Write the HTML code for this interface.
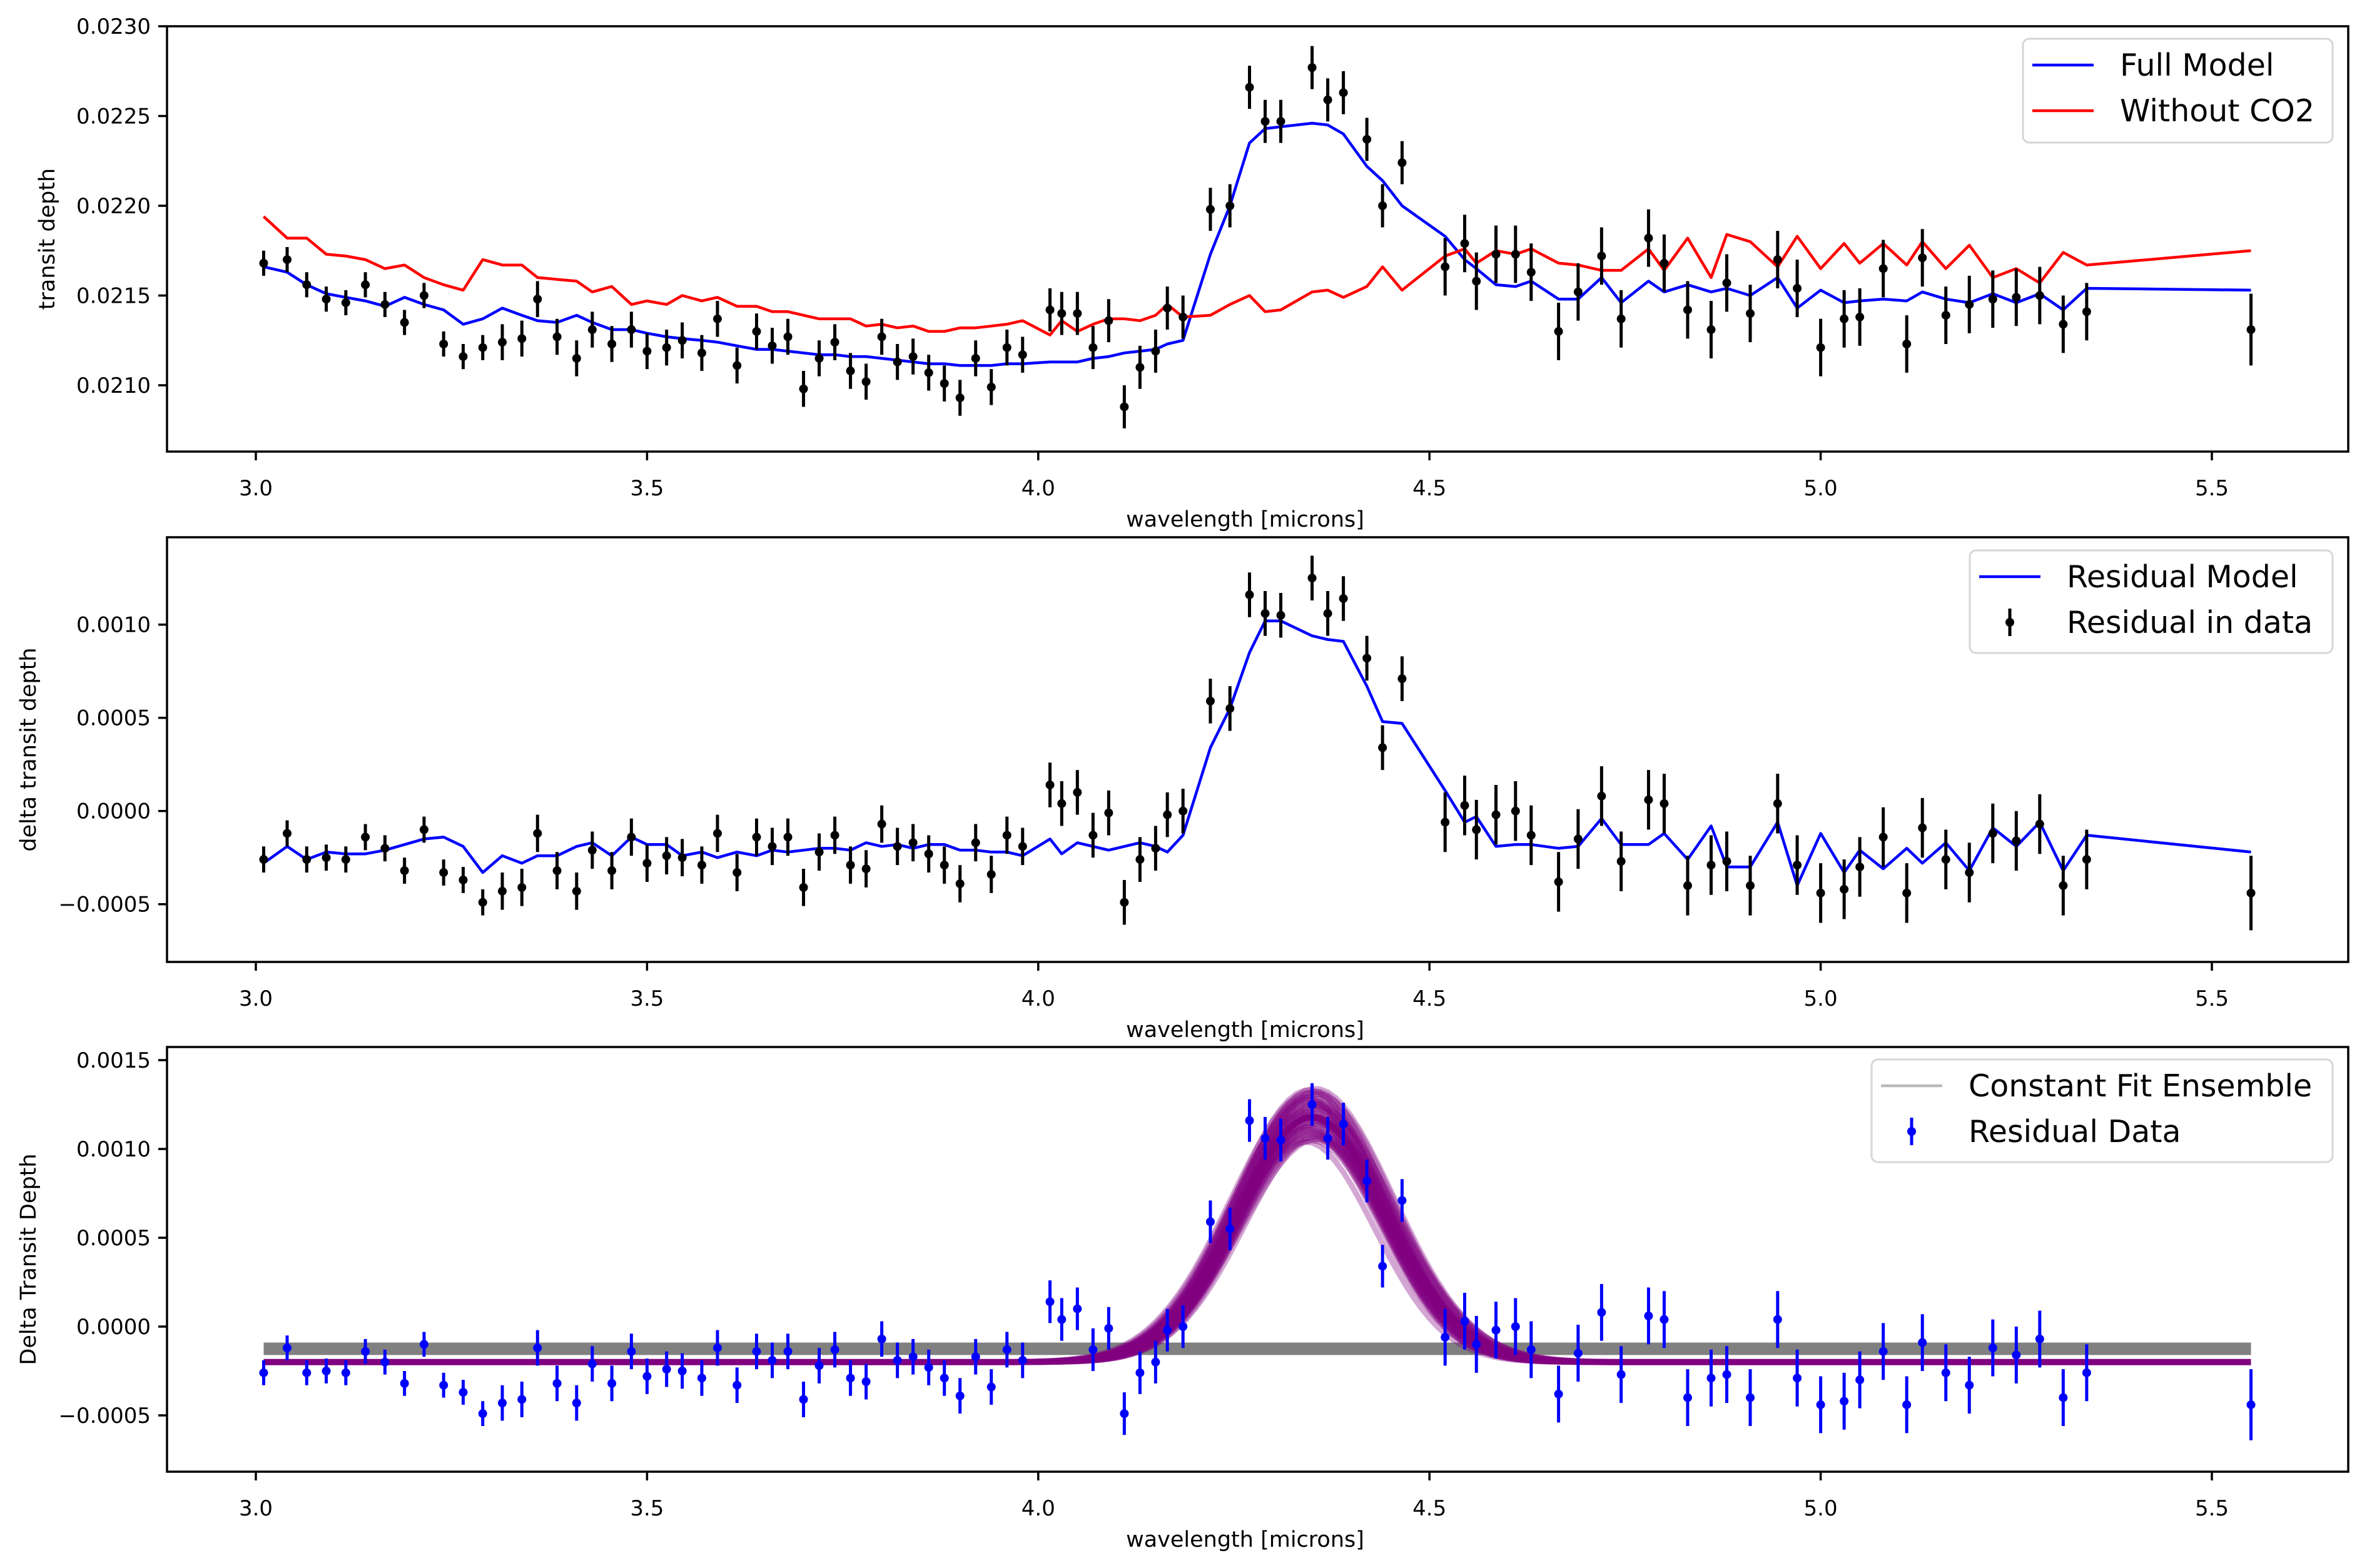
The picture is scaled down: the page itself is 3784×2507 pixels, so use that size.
<!DOCTYPE html>
<html><head><meta charset="utf-8">
<style>html,body{margin:0;padding:0;background:#fff}svg{display:block}</style>
</head><body>
<svg id="s" xmlns="http://www.w3.org/2000/svg" width="3784" height="2507" viewBox="0 0 3784 2507" font-family="DejaVu Sans, Liberation Sans, sans-serif"></svg>
<script>
const S=document.getElementById('s');
let h='';
const L=267,R=3754,X0=409,PX=1250.8;
const X=w=>X0+(w-3)*PX;
const P=[
 {top:42,bot:722,y:v=>42+(0.0230-v)/0.0005*143.5,ticks:[0.0210,0.0215,0.0220,0.0225,0.0230],fmt:v=>v.toFixed(4),lab:'transit depth',lx:75},
 {top:859,bot:1538,y:v=>1296.7-v/0.0005*149,ticks:[-0.0005,0,0.0005,0.0010],fmt:v=>(v<0?'\u22120.0005':v.toFixed(4)),lab:'delta transit depth',lx:45},
 {top:1674,bot:2353,y:v=>2121-v/0.0005*142,ticks:[-0.0005,0,0.0005,0.0010,0.0015],fmt:v=>(v<0?'\u22120.0005':v.toFixed(4)),lab:'Delta Transit Depth',lx:45}
];
const W=[3.01,3.04,3.065,3.09,3.115,3.14,3.165,3.19,3.215,3.24,3.265,3.29,3.315,3.34,3.36,3.385,3.41,3.43,3.455,3.48,3.50,3.525,3.545,3.57,3.59,3.615,3.64,3.66,3.68,3.70,3.72,3.74,3.76,3.78,3.80,3.82,3.84,3.86,3.88,3.90,3.92,3.94,3.96,3.98,4.015,4.03,4.05,4.07,4.09,4.11,4.13,4.15,4.165,4.185,4.22,4.245,4.27,4.29,4.31,4.35,4.37,4.39,4.42,4.44,4.465,4.52,4.545,4.56,4.585,4.61,4.63,4.665,4.69,4.72,4.745,4.78,4.80,4.83,4.86,4.88,4.91,4.945,4.97,5.0,5.03,5.05,5.08,5.11,5.13,5.16,5.19,5.22,5.25,5.28,5.31,5.34,5.55];
const D=[.02168,.02170,.02156,.02148,.02146,.02156,.02145,.02135,.02150,.02123,.02116,.02121,.02124,.02126,.02148,.02127,.02115,.02131,.02123,.02131,.02119,.02121,.02125,.02118,.02137,.02111,.02130,.02122,.02127,.02098,.02115,.02124,.02108,.02102,.02127,.02113,.02116,.02107,.02101,.02093,.02115,.02099,.02121,.02117,.02142,.02140,.02140,.02121,.02136,.02088,.02110,.02119,.02143,.02138,.02198,.02200,.02266,.02247,.02247,.02277,.02259,.02263,.02237,.02200,.02224,.02166,.02179,.02158,.02173,.02173,.02163,.02130,.02152,.02172,.02137,.02182,.02168,.02142,.02131,.02157,.02140,.02170,.02154,.02121,.02137,.02138,.02165,.02123,.02171,.02139,.02145,.02148,.02149,.02150,.02134,.02141,.02131];
const BM=[.02166,.02163,.02156,.02151,.02149,.02147,.02144,.02149,.02145,.02142,.02134,.02137,.02143,.02139,.02136,.02135,.02139,.02135,.02131,.02131,.02129,.02127,.02126,.02125,.02124,.02122,.02120,.02120,.02119,.02118,.02117,.02117,.02116,.02116,.02115,.02114,.02113,.02112,.02112,.02111,.02111,.02111,.02112,.02112,.02113,.02113,.02113,.02115,.02116,.02118,.02119,.02120,.02123,.02125,.02173,.02200,.02235,.02243,.02244,.02246,.02245,.02240,.02222,.02214,.02200,.02183,.02170,.02165,.02156,.02155,.02158,.02148,.02148,.02160,.02146,.02158,.02152,.02156,.02152,.02154,.02150,.02160,.02143,.02153,.02146,.02147,.02148,.02147,.02152,.02148,.02146,.02151,.02146,.02151,.02142,.02154,.02153];
const RM=[.02194,.02182,.02182,.02173,.02172,.02170,.02165,.02167,.02160,.02156,.02153,.02170,.02167,.02167,.02160,.02159,.02158,.02152,.02155,.02145,.02147,.02145,.02150,.02147,.02149,.02144,.02144,.02141,.02141,.02139,.02137,.02137,.02137,.02133,.02134,.02132,.02133,.02130,.02130,.02132,.02132,.02133,.02134,.02136,.02128,.02136,.02130,.02134,.02137,.02137,.02136,.02139,.02145,.02138,.02139,.02145,.02150,.02141,.02142,.02152,.02153,.02149,.02155,.02166,.02153,.02172,.02176,.02168,.02175,.02173,.02176,.02168,.02167,.02164,.02164,.02176,.02164,.02182,.02160,.02184,.02180,.02166,.02183,.02165,.02179,.02168,.02179,.02167,.02180,.02165,.02178,.02160,.02165,.02157,.02174,.02167,.02175];
const E=W.map(w=>w<3.3?0.00007:(w<4?0.0001:(w<4.5?0.00012:(w>5.4?0.0002:0.00016))));
function line(p,xs,ys,col,sw,extra){let d='';xs.forEach((x,i)=>{d+=(i?'L':'M')+X(x).toFixed(1)+','+p.y(ys[i]).toFixed(1)});h+=`<path d="${d}" fill="none" stroke="${col}" stroke-width="${sw}" stroke-linejoin="round" ${extra||''}/>`;}
function pts(p,vals,col){W.forEach((w,i)=>{const x=X(w),v=vals[i];h+=`<line x1="${x}" x2="${x}" y1="${p.y(v+E[i])}" y2="${p.y(v-E[i])}" stroke="${col}" stroke-width="5"/><circle cx="${x}" cy="${p.y(v)}" r="7" fill="${col}"/>`;});}
P.forEach((p,k)=>{
 h+=`<clipPath id="c${k}"><rect x="${L}" y="${p.top}" width="${R-L}" height="${p.bot-p.top}"/></clipPath>`;
 [3,3.5,4,4.5,5,5.5].forEach(t=>{const x=X(t);h+=`<line x1="${x}" x2="${x}" y1="${p.bot}" y2="${p.bot+14}" stroke="#000" stroke-width="3.5"/><text x="${x}" y="${p.bot+70}" font-size="34" text-anchor="middle">${t.toFixed(1)}</text>`;});
 p.ticks.forEach(t=>{const y=p.y(t);h+=`<line x1="${L-14}" x2="${L}" y1="${y}" y2="${y}" stroke="#000" stroke-width="3.5"/><text x="${L-26}" y="${y+12}" font-size="34" text-anchor="end">${p.fmt(t)}</text>`;});
 h+=`<text x="${(L+R)/2-20}" y="${p.bot+120}" font-size="35" text-anchor="middle">wavelength [microns]</text>`;
 h+=`<text transform="translate(${p.lx+12},${(p.top+p.bot)/2}) rotate(-90)" font-size="35" text-anchor="middle">${p.lab}</text>`;
});
let p=P[0];
h+=`<g clip-path="url(#c0)">`;
line(p,W,BM,'#0000ff',4.5);line(p,W,RM,'#ff0000',4.5);pts(p,D,'#000');
h+='</g>';
p=P[1];
const RD=D.map((v,i)=>v-RM[i]),RMod=BM.map((v,i)=>v-RM[i]);
h+=`<g clip-path="url(#c1)">`;line(p,W,RMod,'#0000ff',4.5);pts(p,RD,'#000');h+='</g>';
p=P[2];
h+=`<g clip-path="url(#c2)">`;
h+=`<rect x="${X(3.01)}" y="${p.y(-0.00009)}" width="${X(5.55)-X(3.01)}" height="${p.y(-0.00016)-p.y(-0.00009)}" fill="#808080"/>`;
const gx=[];for(let w=3.01;w<=5.551;w+=0.01)gx.push(w);
for(let k=0;k<40;k++){const a=0.00124+0.00030*(k/39),s=0.088+0.014*((k*7%23)/23),c=4.35+0.016*((k*5%11)/11-0.5);
 line(p,gx,gx.map(w=>-0.0002+a*Math.exp(-((w-c)**2)/(2*s*s))),'#800080',9,'stroke-opacity="0.35"');}
line(p,gx,gx.map(w=>-0.0002+0.00138*Math.exp(-((w-4.35)**2)/(2*0.094*0.094))),'#800080',10);
pts(p,RD,'#0000ff');
h+='</g>';
P.forEach(q=>{h+=`<rect x="${L}" y="${q.top}" width="${R-L}" height="${q.bot-q.top}" fill="none" stroke="#000" stroke-width="3.5"/>`;});
function leg(x,y,w,hh,items){h+=`<rect x="${x}" y="${y}" width="${w}" height="${hh}" rx="10" fill="#fff" fill-opacity="0.8" stroke="#d6d6d6" stroke-width="3"/>`;
 items.forEach((it,i)=>{const cy=y+42+i*73;if(it.t=='l')h+=`<line x1="${x+15}" x2="${x+113}" y1="${cy}" y2="${cy}" stroke="${it.c}" stroke-width="4.5"/>`;else h+=`<line x1="${x+64}" x2="${x+64}" y1="${cy-22}" y2="${cy+22}" stroke="${it.c}" stroke-width="5"/><circle cx="${x+64}" cy="${cy}" r="7" fill="${it.c}"/>`;
 h+=`<text x="${x+155}" y="${cy+17}" font-size="49">${it.s}</text>`;});}
leg(3234,62,495,166,[{t:'l',c:'#0000ff',s:'Full Model'},{t:'l',c:'#ff0000',s:'Without CO2'}]);
leg(3149,880,580,164,[{t:'l',c:'#0000ff',s:'Residual Model'},{t:'p',c:'#000',s:'Residual in data'}]);
leg(2992,1694,737,164,[{t:'l',c:'#bbbbbb',s:'Constant Fit Ensemble'},{t:'p',c:'#0000ff',s:'Residual Data'}]);
S.innerHTML=h;
</script>
</body></html>
